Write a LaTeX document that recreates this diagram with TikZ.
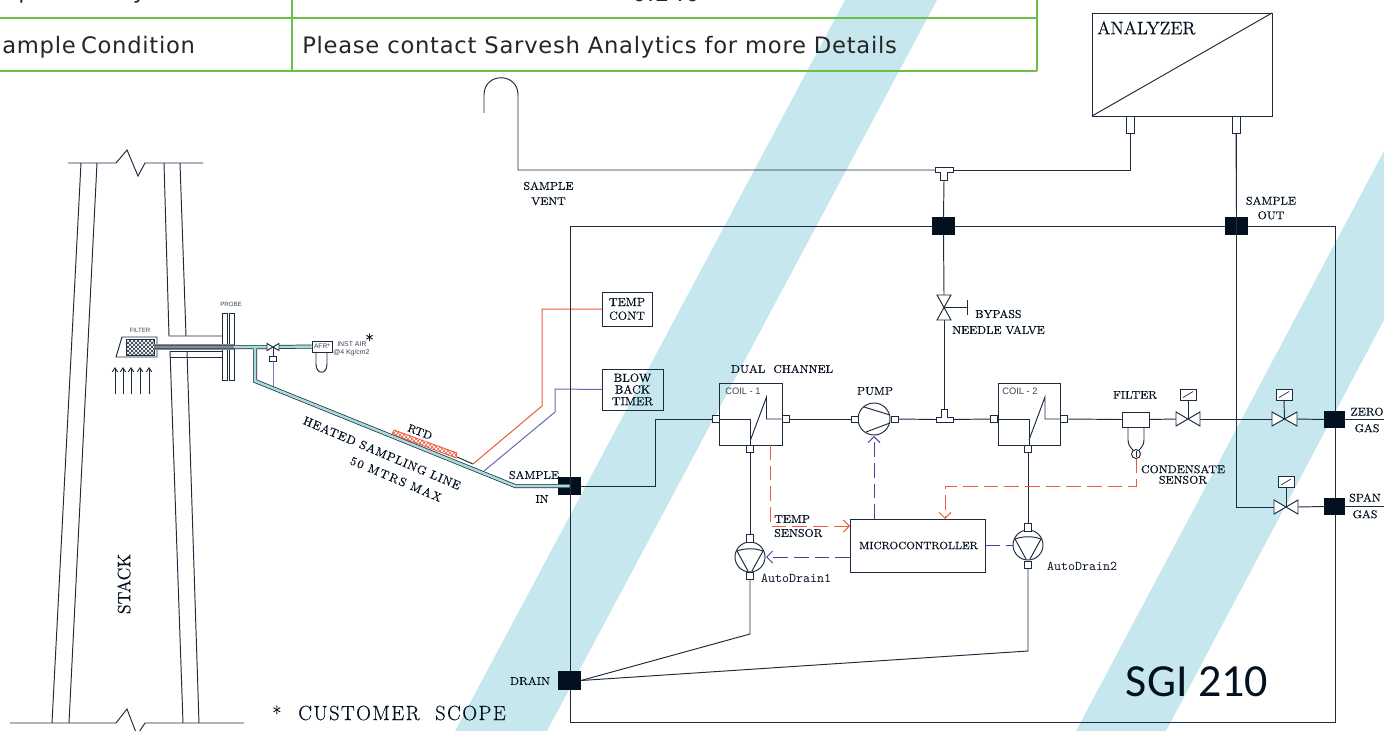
\documentclass[tikz,border=0pt]{standalone}
\usepackage{fontspec}
\setmainfont{Latin Modern Roman}
\usetikzlibrary{arrows.meta,patterns,calc}
\newfontfamily\tablefont{DejaVu Sans}[LetterSpace=3.2]
\newfontfamily\smallsans{Liberation Sans}
\newfontfamily\bigsans{Carlito}
\definecolor{ink}{HTML}{1E2A3E}
\definecolor{blk}{HTML}{03101F}
\definecolor{stripe}{HTML}{C7E7EE}
\definecolor{tgreen}{HTML}{6CC04A}
\definecolor{rline}{HTML}{EE5A3C}
\definecolor{pline}{HTML}{4B3FA0}
\definecolor{pipeteal}{HTML}{A8DCDC}
\definecolor{gtext}{HTML}{3A4250}
\newcommand\fnt[1]{\fontsize{#1}{#1}\selectfont}
\newcommand\lf[1]{\fontsize{#1}{#1}\selectfont\addfontfeatures{FakeBold=.3}}
\newcommand\lfs[2]{\fontsize{#2}{#2}\selectfont\addfontfeatures{FakeBold=.3,LetterSpace=#1}}
\newcommand\hvalve[1]{\draw[ln,fill=white] (#1.north west)--(#1.south east)--(#1.north east)--(#1.south west)--cycle;}
\newcommand\vvalve[1]{\draw[ln,fill=white] (#1.north west)--(#1.south east)--(#1.south west)--(#1.north east)--cycle;}
\newcommand\coilin[1]{\begin{scope}[shift={(#1.center)}]\draw[ln] (-31,5)--(0,5)--(0,31);\draw[ln] (0,26)--(16,-17)--(16,5)--(31,5);\end{scope}}
\newcommand\draininner[1]{\begin{scope}[shift={(#1.center)}]\draw[ln] (-2,14)--(-13,-6) .. controls (-5,-9) and (5,-9) .. (13,-6)--(2,14);\end{scope}}
\tikzset{
 ln/.style={draw=ink,line width=.72pt},
 box/.style={draw=ink,line width=.72pt,rectangle,inner sep=0pt,outer sep=0pt},
 port/.style={box,fill=white},
 ghost/.style={rectangle,inner sep=0pt,outer sep=0pt},
 blkbox/.style={rectangle,fill=blk,inner sep=0pt,outer sep=0pt},
 roundb/.style={draw=ink,line width=.72pt,circle,inner sep=0pt,outer sep=0pt,fill=white},
 sz/.style 2 args={minimum width=#1*.75pt,minimum height=#2*.75pt},
 lb/.style={text=blk,inner sep=0pt,align=center,font=\lf{8.4}},
 sm/.style={text=gtext,inner sep=0pt,align=center,font=\smallsans\fnt{4.6}},
 pipeo/.style={draw=ink,line width=3pt,line join=miter},
 pipei/.style={draw=pipeteal,line width=1.9pt,line join=miter},
 redd/.style={draw=rline,line width=.7pt,dash pattern=on 11pt off 4.5pt},
 purd/.style={draw=pline,line width=.7pt,dash pattern=on 11pt off 4.5pt},
 tip/.style={-{Straight Barb[length=4.5pt,width=9pt]}},
 tbl/.style={draw=tgreen,line width=1.1pt},
 ttxt/.style={text=black!85,inner sep=0pt,font=\tablefont\fnt{17}},
}
\begin{document}
\begin{tikzpicture}[x=.75pt,y=-.75pt]
\useasboundingbox (0,0) rectangle (1384,731);
% stripes
\fill[stripe] (845,0)--(937,0)--(547,731)--(455,731)--cycle;
\fill[stripe] (1384,151)--(1384,320)--(1166,731)--(1076,731)--cycle;
% table
\draw[tbl] (0,18)--(1037,18);
\draw[tbl] (0,71)--(1037,71);
\draw[tbl] (292,0)--(292,71);
\draw[tbl] (1037,0)--(1037,71);
\node[ttxt,anchor=base west] (t1) at (2,54) {ample\hspace{-2pt} Condition};
\node[ttxt,anchor=base west] (t2) at (302,54) {Please contact Sarvesh Analytics for more Details};
\node[ttxt,anchor=base west] (t3) at (-12,-1) {Repeatability};
\node[ttxt,anchor=base] (t4) at (666,2) {0.240};
% stack
\draw[ln] (81,163)--(52,723);
\draw[ln] (97,163)--(69,723);
\draw[ln] (164,163)--(169,336)--(222,336);
\draw[ln] (180,163)--(186,336);
\draw[ln] (170,351)--(183,723);
\draw[ln] (187,351)--(199,723);
\draw[ln] (170,351)--(222,351);
\draw[ln] (170,357)--(222,357);
\draw[ln] (68,163)--(116,163)--(127,150)--(138,176)--(145,163)--(203,163);
\draw[ln] (10,723)--(116,723)--(127,709)--(137,735)--(145,723)--(244,723);
\node[lb,rotate=90,font=\lf{13.5}] (stack) at (124,584) {STACK};
% probe
\node[box,sz={5}{67}] (fl1) at (224.5,346.5) {};
\node[box,sz={5}{67}] (fl2) at (231.5,346.5) {};
\node[sm] (probe) at (231,304) {PROBE};
\node[sm] (filt) at (140,330) {FILTER};
\draw[ln,fill=white] (116,357)--(122,337)--(157,337)--(157,357)--cycle;
\node[ghost,sz={28}{16},pattern=crosshatch,pattern color=ink,draw=ink] (grid) at (140,347) {};
\fill[ink!55] (154,344) rectangle (234,350);
\draw[ink!80,line width=.4pt] (154,345.5)--(234,345.5) (154,348.5)--(234,348.5);
\foreach \ax in {115,123,131,140,149}{\draw[draw=ink,line width=.7pt,-{Straight Barb[length=3pt,width=4pt]}] (\ax,394)--(\ax,367);}
% air line
\node[ghost,sz={12}{7}] (nv) at (273,347) {};
\node[box,sz={20}{11},fill=white] (afr) at (322,346.5) {};
\node[inner sep=0pt,text=gtext,font=\smallsans\fnt{5}] (afrt) at (322,346.5) {AFR*};
\draw[ln] (316,352)--(316,364) .. controls (316,375) and (327,375) .. (327,364)--(327,352);
\node[sm,anchor=west,font=\smallsans\fnt{5.2}] (ia1) at (337,344) {INST AIR};
\node[sm,anchor=west,font=\smallsans\fnt{5.2}] (ia2) at (333,353) {@4 Kg/cm2};
\node[lb,font=\lf{13}] (star) at (369.5,340) {*};
\node[box,sz={7}{4.5},fill=white] (act0) at (273,359) {};
\draw[draw=pline!70,line width=.7pt] (act0.south)--(273,387);
\coordinate (pa) at (234,347);
\coordinate (pb) at (255,347);
\coordinate (pc) at (255,381);
\coordinate (pd) at (515,486);
\node[blkbox,sz={23}{18}] (bIn) at (569.5,486) {};
\draw[pipeo] (pa)--(nv.west) (nv.east)--(afr.west);
\draw[pipeo] (pb)--(pc)--(pd)--(bIn.center);
\draw[pipei] (pa)--(nv.west) (nv.east)--(afr.west);
\draw[pipei] (pb)--(pc)--(pd)--(bIn.center);
\hvalve{nv}
\draw[ln] (nv.center)--(act0.north);
% rtd
\draw[draw=rline,pattern=crosshatch,pattern color=rline,line width=.6pt] (394,430)--(457,453)--(456,458)--(392,434)--cycle;
\coordinate (rs) at (473,464);
\coordinate (ps) at (484,471);
\draw[ln] (457,457)--(rs);
\node[box,sz={50}{34}] (tc) at (627,309) {};
\node[box,sz={61}{41}] (bb) at (632.5,389.5) {};
\node[lb,font=\lf{8.8}] at (tc.center) (tct) {TEMP\\[1.5pt]CONT};
\node[lb,font=\lf{8.8}] at (bb.center) (bbt) {BLOW\\[0pt]BACK\\[0pt]TIMER};
\draw[draw=rline,line width=.75pt] (rs)--(542,406)--(542,309)--(tc.west);
\draw[draw=pline!80,line width=.75pt] (ps)--(555,412)--(555,389)--(bb.west);
\node[lb,rotate=-21] (rtd) at (420,432) {RTD};
\node[lb,rotate=-23,font=\lfs{6}{9}] (hs) at (382,453) {HEATED SAMPLING LINE};
\node[lb,rotate=-23,font=\lfs{12}{9}] (mt) at (396,479) {50 MTRS MAX};
\node[lb] (si1) at (534,475) {SAMPLE};
\node[lb] (si2) at (542,499) {IN};
% main box
\node[box,sz={765}{496}] (main) at (952.5,474) {};
\node[blkbox,sz={23}{18}] (bBy) at (943.5,226) {};
\node[blkbox,sz={23}{18}] (bOut) at (1236.5,226) {};
\node[blkbox,sz={21}{17}] (bZ) at (1334.5,419.5) {};
\node[blkbox,sz={21}{17}] (bS) at (1334.5,506.5) {};
\node[blkbox,sz={23}{19}] (bD) at (569.5,680.5) {};
% analyzer
\node[box,sz={180}{103}] (an) at (1182,64.5) {};
\draw[ln] (an.south west)--(an.north east);
\node[lb,anchor=west,font=\lf{13.5}] (ant) at (1097,28) {ANALYZER};
\node[port,sz={8}{17}] (ap1) at (1130,124.5) {};
\node[port,sz={8}{17}] (ap2) at (1236,124.5) {};
% tee 1
\coordinate (t1l) at (935,170);
\coordinate (t1r) at (953,170);
\coordinate (t1b) at (944,180);
\draw[ln] (ap1.south)|-(t1r);
\draw[ln] (t1l)--(518,170)--(518,95) .. controls (518,72) and (484,72) .. (484,95)--(484,113);
\draw[ln,fill=white] (935,167)--(953,167)--(953,172)--(947.5,172)--(947.5,180)--(940.5,180)--(940.5,172)--(935,172)--cycle;
\draw[ln] (t1b)--(bBy.north);
\node[lb] (sv) at (548.5,193.5) {SAMPLE\\[3pt]VENT};
\node[lb] (so) at (1271,208) {SAMPLE\\[2.5pt]OUT};
\draw[ln] (ap2.south)--(bOut.north);
% bypass
\node[ghost,sz={14}{25}] (bv) at (944,307.5) {};
\coordinate (t2t) at (944,409);
\draw[ln] (bBy.south)--(bv.north);
\draw[ln] (bv.south)--(t2t);
\vvalve{bv}
\draw[ln] (bv.center)--(967,307.5);
\draw[ln] (967,300)--(967,315);
\node[lb,anchor=west,font=\lf{8.6}] (by1) at (975,314) {BYPASS};
\node[lb,anchor=west,font=\lf{8.6}] (by2) at (952,330) {NEEDLE VALVE};
% coils
\node[box,sz={63}{62}] (c1) at (750.5,414) {};
\node[box,sz={62}{62}] (c2) at (1029,414) {};
\coilin{c1}
\coilin{c2}
\node[port,sz={7}{7}] (c1l) at (716,419) {};
\node[port,sz={7}{7}] (c1r) at (785.5,419) {};
\node[port,sz={7}{7}] (c1b) at (750,448.5) {};
\node[port,sz={7}{7}] (c2l) at (994,419) {};
\node[port,sz={7}{7}] (c2r) at (1064,419) {};
\node[port,sz={7}{7}] (c2b) at (1028,448.5) {};
\node[sm,font=\smallsans\fnt{7}] (c1t) at (743,391) {COIL - 1};
\node[sm,font=\smallsans\fnt{7}] (c2t) at (1020,391) {COIL - 2};
\node[lb] (dc) at (782,369) {DUAL\hspace{3pt} CHANNEL};
\draw[ln] (bIn.east)--(655,486)--(655,419)--(c1l.west);
% pump
\node[roundb,sz={32}{32}] (pu) at (874,419) {};
\begin{scope}[shift={(pu.center)}]\draw[ln] (-10,-12)--(16,-4);\draw[ln] (-8,13)--(16,4);\end{scope}
\node[port,sz={7}{6}] (pul) at (854.5,419) {};
\node[port,sz={7}{6}] (pur) at (894.5,419) {};
\node[lb] (pt) at (875,391) {PUMP};
\coordinate (t2l) at (936,419.5);
\coordinate (t2r) at (953,419.5);
\draw[ln] (c1r.east)--(pul.west);
\draw[ln] (pur.east)--(t2l);
\draw[ln] (t2r)--(c2l.west);
\draw[ln,fill=white] (936,417)--(941,417)--(941,409)--(947,409)--(947,417)--(953,417)--(953,422)--(936,422)--cycle;
% autodrains
\node[roundb,sz={30}{30}] (d1) at (750,557) {};
\node[roundb,sz={30}{30}] (d2) at (1028,545) {};
\draininner{d1}
\draininner{d2}
\node[port,sz={7}{8}] (d1t) at (750,538) {};
\node[port,sz={7}{7}] (d1b) at (750,575.5) {};
\node[port,sz={7}{8}] (d2t) at (1028,527) {};
\node[port,sz={7}{7}] (d2b) at (1028,564.5) {};
\draw[ln] (c1b.south)--(d1t.north);
\draw[ln] (c2b.south)--(d2t.north);
\draw[ln] (d1b.south)--(750,634)--(bD.east);
\draw[ln] (d2b.south)--(1028,651)--(bD.east);
\node[lb,font=\ttfamily\fnt{10}] (ad1) at (796,578) {AutoDrain1};
\node[lb,font=\ttfamily\fnt{10}] (ad2) at (1082,566) {AutoDrain2};
% micro
\node[box,sz={135}{53}] (mc) at (917.5,545.5) {};
\node[lb,font=\lf{7.9}] (mct) at ($(mc.center)+(1,0)$) {MICROCONTROLLER};
\draw[redd,tip] (770,445)--(770,526)--(850,526);
\draw[purd,tip] (874,519)--(874,436);
\draw[purd,tip] (850,557)--(766,557);
\draw[purd] (mc.east |- d2.center)--(d2.west);
\node[lb,anchor=west] (ts1) at (774,519) {TEMP};
\node[lb,anchor=west] (ts2) at (774,533) {SENSOR};
% filter
\node[box,sz={27}{15}] (fb) at (1135.5,419.5) {};
\node[lb] (ft) at (1135,395) {FILTER};
\draw[ln] (1128,427)--(1128,440) .. controls (1128,445) and (1131,448) .. (1133,450);
\draw[ln] (1144,427)--(1144,440) .. controls (1144,445) and (1141,448) .. (1139,450);
\node[roundb,sz={9}{9}] (cs) at (1136,454) {};
\draw[draw=ink,line width=.5pt] (1136,451)--(1136,457);
\node[lb] (cs1) at (1183,474.5) {CONDENSATE\\[-.5pt]SENSOR};
\draw[redd,tip] (cs.south)--(1136,486)--(945,486)--(945,519);
% valves
\node[ghost,sz={24}{14}] (v1) at (1188,419) {};
\node[ghost,sz={25}{14}] (v2) at (1284.5,419) {};
\node[ghost,sz={24}{14}] (v3) at (1286,507) {};
\draw[ln] (c2r.east)--(fb.west);
\draw[ln] (fb.east)--(v1.west);
\draw[ln] (v1.east)--(v2.west);
\draw[ln] (v2.east)--(bZ.west);
\draw[ln] (ap2.south)--(1236,507)--(v3.west);
\draw[ln] (v3.east)--(bS.west);
\draw[ln] (bZ.east)--(1384,419.5);
\draw[ln] (bS.east)--(1384,506.5);
\hvalve{v1}
\hvalve{v2}
\hvalve{v3}
\foreach \vn/\ax/\ay in {1/1188/394.5,2/1284/394.5,3/1286/482}{
 \node[box,sz={16}{11},fill=white] (a\vn) at (\ax,\ay) {};
 \draw[ln] (a\vn.south)--(v\vn.center);
 \draw[draw=ink,line width=.5pt] ($(a\vn.center)+(-5,3)$)--($(a\vn.center)+(5,-3)$);
}
\node[lb] (zg) at (1367,420) {ZERO\\[4pt]GAS};
\node[lb] (sg) at (1365,506) {SPAN\\[4pt]GAS};
\node[lb] (dr) at (530,681) {DRAIN};
\node[lb,anchor=west,font=\lf{15}] (cu1) at (272,713) {*};
\node[lb,anchor=west,font=\lfs{7}{15.4}] (cu2) at (298,713) {CUSTOMER\hspace{6pt} SCOPE};
\node[inner sep=0pt,text=blk,font=\bigsans\fnt{34.5}] (sgi) at (1197,682) {SGI 210};
\end{tikzpicture}
\end{document}
